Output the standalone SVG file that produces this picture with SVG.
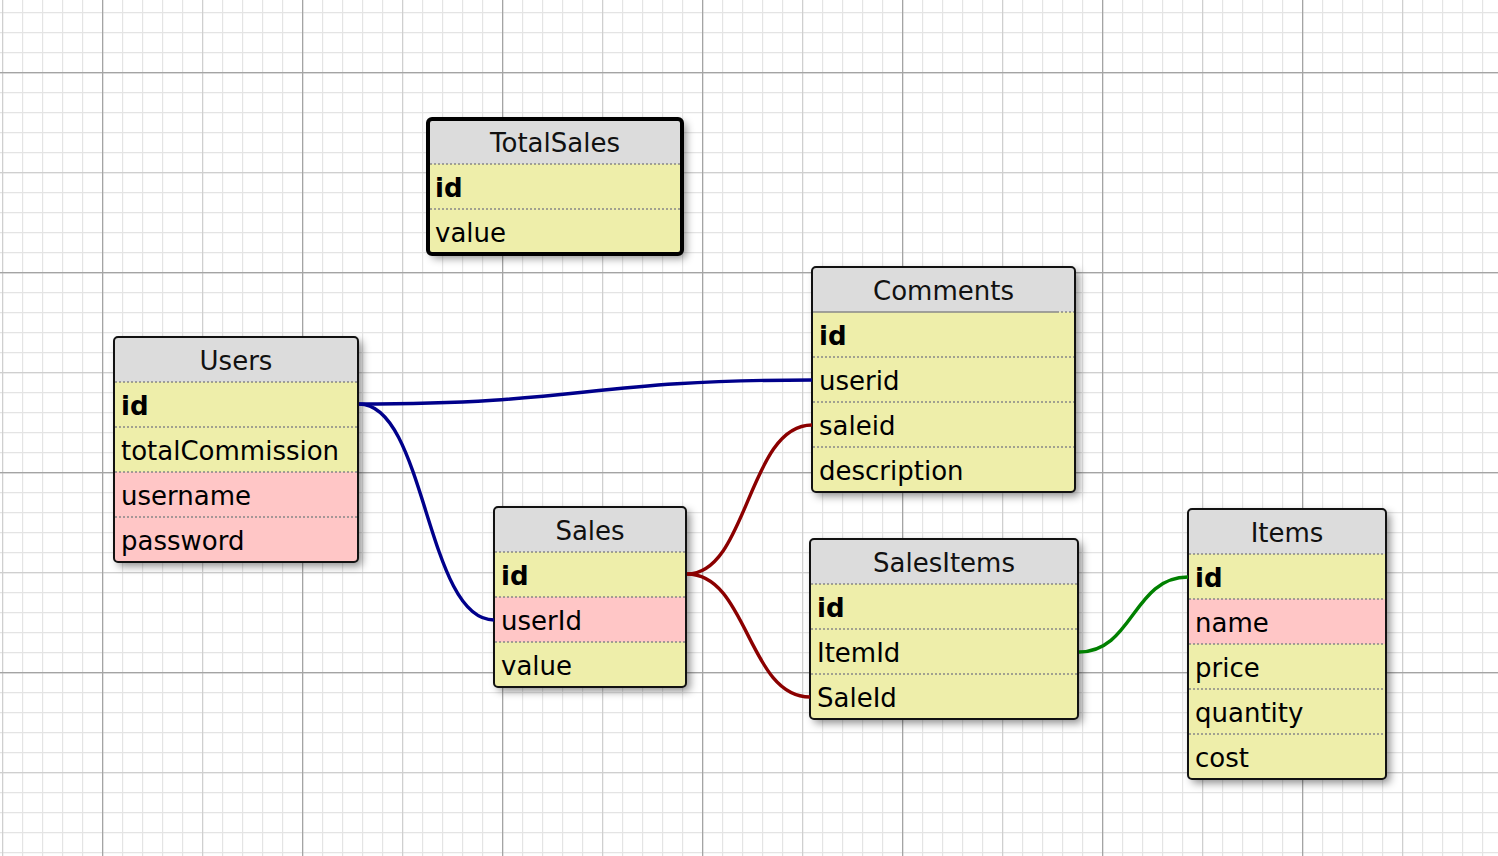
<svg xmlns="http://www.w3.org/2000/svg" width="1498" height="856" viewBox="0 0 1498 856">
<defs>
<pattern id="gMinor" patternUnits="userSpaceOnUse" x="2" y="12" width="20" height="20"><path d="M0 0.6H20M0.6 0V20" stroke="#e4e4e4" stroke-width="1.2" fill="none"/></pattern>
<pattern id="gMed" patternUnits="userSpaceOnUse" x="2" y="72" width="100" height="100"><path d="M0 0.6H100M0.6 0V100" stroke="#cfcfcf" stroke-width="1.2" fill="none"/></pattern>
<pattern id="gMaj" patternUnits="userSpaceOnUse" x="102" y="72" width="200" height="200"><path d="M0 0.6H200M0.6 0V200" stroke="#a4a4a4" stroke-width="1.2" fill="none"/></pattern>
<filter id="shadow" x="-20%" y="-20%" width="150%" height="150%"><feDropShadow dx="4" dy="4" stdDeviation="4" flood-color="#000" flood-opacity="0.45"/></filter>
<clipPath id="cUsers"><rect x="114" y="337" width="244" height="225" rx="4"/></clipPath>
<clipPath id="cTotal"><rect x="428" y="119" width="254" height="135" rx="4"/></clipPath>
<clipPath id="cComments"><rect x="812" y="267" width="263" height="225" rx="4"/></clipPath>
<clipPath id="cSales"><rect x="494" y="507" width="192" height="180" rx="4"/></clipPath>
<clipPath id="cSalesItems"><rect x="810" y="539" width="268" height="180" rx="4"/></clipPath>
<clipPath id="cItems"><rect x="1188" y="509" width="198" height="270" rx="4"/></clipPath>
</defs>
<style>
text{font-family:"DejaVu Sans","Liberation Sans",sans-serif;font-size:26px;fill:#000}
.hd{fill:#dcdcdc}
.y{fill:#eeeeaa}
.p{fill:#ffc6c6}
.ttl{text-anchor:middle;fill:#111}
.b{font-weight:bold}
.sep{stroke:#888;stroke-width:1.6;stroke-dasharray:2 2;fill:none}
.bd{fill:none;stroke:#111;stroke-width:2}
.sh{fill:#dcdcdc;filter:url(#shadow)}
.cn{fill:none;stroke-width:3.4}
</style>
<rect width="1498" height="856" fill="#fff"/>
<rect width="1498" height="856" fill="url(#gMinor)"/>
<rect width="1498" height="856" fill="url(#gMed)"/>
<rect width="1498" height="856" fill="url(#gMaj)"/>

<g id="TotalSales">
<rect class="sh" x="428" y="119" width="254" height="135" rx="4"/>
<g clip-path="url(#cTotal)">
<rect class="hd" x="428" y="119" width="254" height="45"/>
<rect class="y" x="428" y="164" width="254" height="45"/>
<rect class="y" x="428" y="209" width="254" height="45"/>
</g>
<path class="sep" d="M430 164H680M430 209H680"/>
<text class="ttl" x="555" y="152">TotalSales</text>
<text class="b" x="435" y="197">id</text>
<text x="435" y="242">value</text>
<rect x="428" y="119" width="254" height="135" rx="4" fill="none" stroke="#000" stroke-width="4"/>
</g>

<g id="Users">
<rect class="sh" x="114" y="337" width="244" height="225" rx="4"/>
<g clip-path="url(#cUsers)">
<rect class="hd" x="114" y="337" width="244" height="45"/>
<rect class="y" x="114" y="382" width="244" height="45"/>
<rect class="y" x="114" y="427" width="244" height="45"/>
<rect class="p" x="114" y="472" width="244" height="45"/>
<rect class="p" x="114" y="517" width="244" height="45"/>
</g>
<path class="sep" d="M115 382H357M115 427H357M115 472H357M115 517H357"/>
<text class="ttl" x="236" y="370">Users</text>
<text class="b" x="121" y="415">id</text>
<text x="121" y="460">totalCommission</text>
<text x="121" y="505">username</text>
<text x="121" y="550">password</text>
<rect class="bd" x="114" y="337" width="244" height="225" rx="4"/>
</g>

<g id="Comments">
<rect class="sh" x="812" y="267" width="263" height="225" rx="4"/>
<g clip-path="url(#cComments)">
<rect class="hd" x="812" y="267" width="263" height="45"/>
<rect class="y" x="812" y="312" width="263" height="45"/>
<rect class="y" x="812" y="357" width="263" height="45"/>
<rect class="y" x="812" y="402" width="263" height="45"/>
<rect class="y" x="812" y="447" width="263" height="45"/>
</g>
<path d="M813 312H1057" stroke="#888" stroke-width="1.6"/>
<path class="sep" d="M1057 312H1074M813 357H1074M813 402H1074M813 447H1074"/>
<text class="ttl" x="943.5" y="300">Comments</text>
<text class="b" x="819" y="345">id</text>
<text x="819" y="390">userid</text>
<text x="819" y="435">saleid</text>
<text x="819" y="480">description</text>
<rect class="bd" x="812" y="267" width="263" height="225" rx="4"/>
</g>

<g id="Sales">
<rect class="sh" x="494" y="507" width="192" height="180" rx="4"/>
<g clip-path="url(#cSales)">
<rect class="hd" x="494" y="507" width="192" height="45"/>
<rect class="y" x="494" y="552" width="192" height="45"/>
<rect class="p" x="494" y="597" width="192" height="45"/>
<rect class="y" x="494" y="642" width="192" height="45"/>
</g>
<path class="sep" d="M495 552H685M495 597H685M495 642H685"/>
<text class="ttl" x="590" y="540">Sales</text>
<text class="b" x="501" y="585">id</text>
<text x="501" y="630">userId</text>
<text x="501" y="675">value</text>
<rect class="bd" x="494" y="507" width="192" height="180" rx="4"/>
</g>

<g id="SalesItems">
<rect class="sh" x="810" y="539" width="268" height="180" rx="4"/>
<g clip-path="url(#cSalesItems)">
<rect class="hd" x="810" y="539" width="268" height="45"/>
<rect class="y" x="810" y="584" width="268" height="45"/>
<rect class="y" x="810" y="629" width="268" height="45"/>
<rect class="y" x="810" y="674" width="268" height="45"/>
</g>
<path class="sep" d="M811 584H1077M811 629H1077M811 674H1077"/>
<text class="ttl" x="944" y="572">SalesItems</text>
<text class="b" x="817" y="617">id</text>
<text x="817" y="662">ItemId</text>
<text x="817" y="707">SaleId</text>
<rect class="bd" x="810" y="539" width="268" height="180" rx="4"/>
</g>

<g id="Items">
<rect class="sh" x="1188" y="509" width="198" height="270" rx="4"/>
<g clip-path="url(#cItems)">
<rect class="hd" x="1188" y="509" width="198" height="45"/>
<rect class="y" x="1188" y="554" width="198" height="45"/>
<rect class="p" x="1188" y="599" width="198" height="45"/>
<rect class="y" x="1188" y="644" width="198" height="45"/>
<rect class="y" x="1188" y="689" width="198" height="45"/>
<rect class="y" x="1188" y="734" width="198" height="45"/>
</g>
<path class="sep" d="M1189 554H1385M1189 599H1385M1189 644H1385M1189 689H1385M1189 734H1385"/>
<text class="ttl" x="1287" y="542">Items</text>
<text class="b" x="1195" y="587">id</text>
<text x="1195" y="632">name</text>
<text x="1195" y="677">price</text>
<text x="1195" y="722">quantity</text>
<text x="1195" y="767">cost</text>
<rect class="bd" x="1188" y="509" width="198" height="270" rx="4"/>
</g>

<g id="connectors">
<path class="cn" stroke="#00008b" d="M359 404C585 404 585 380 812 380"/>
<path class="cn" stroke="#00008b" d="M359 404C426 404 426 620 494 620"/>
<path class="cn" stroke="#8b0000" d="M687 574C748 574 748 425 812 425"/>
<path class="cn" stroke="#8b0000" d="M687 574C748 574 748 697 810 697"/>
<path class="cn" stroke="#008000" d="M1079 652C1133 652 1133 577 1188 577"/>
</g>
</svg>
